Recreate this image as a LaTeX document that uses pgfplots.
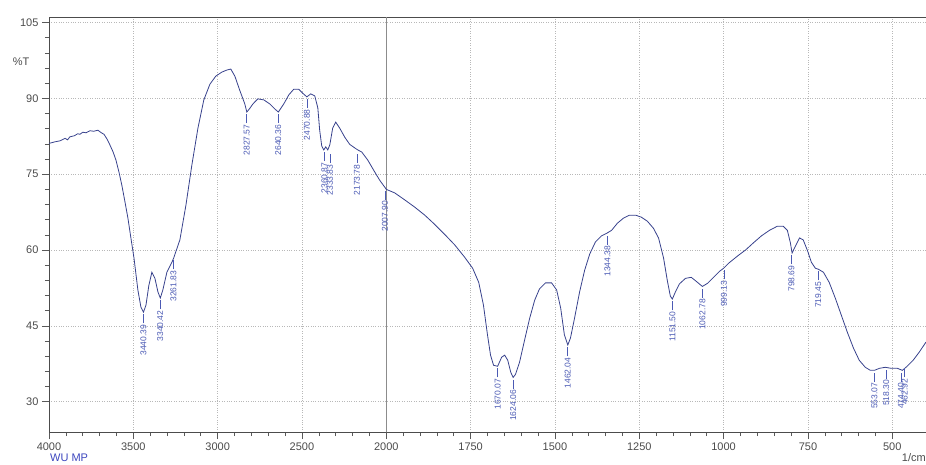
\documentclass[border=0pt]{standalone}
\usepackage{pgfplots}
\usepackage{pgfplotstable}
\pgfplotsset{compat=1.18}
\usepackage{fontspec}
\setmainfont{Liberation Sans}
\definecolor{curve}{RGB}{55,65,140}
\definecolor{lbl}{RGB}{75,90,180}
\definecolor{txt}{RGB}{75,75,75}
\definecolor{wu}{RGB}{60,70,190}
\pgfplotstableread{
wn T
4000 81.1
3965 81.4
3935 81.6
3905 82.1
3890 81.8
3876 82.4
3850 82.6
3830 83.0
3816 82.9
3800 83.3
3780 83.2
3757 83.6
3735 83.5
3710 83.7
3690 83.2
3674 82.9
3655 81.9
3639 80.8
3620 79.4
3603 77.8
3585 75.4
3568 72.8
3550 69.6
3532 66.3
3514 62.3
3496 58.4
3473 52.1
3455 48.7
3440 47.7
3425 49.1
3408 53.0
3390 55.6
3372 54.4
3354 51.7
3340 50.5
3325 52.1
3301 55.6
3271 57.6
3261 58.4
3224 62.0
3188 68.9
3153 76.8
3117 84.1
3082 89.7
3046 92.8
3011 94.4
2975 95.2
2946 95.6
2922 95.8
2898 94.4
2869 91.6
2839 88.9
2827 87.3
2810 88.0
2791 88.9
2762 89.9
2726 89.7
2691 88.9
2661 87.9
2640 87.3
2608 88.9
2578 90.7
2549 91.8
2519 91.8
2495 91.0
2471 90.3
2448 90.9
2424 90.5
2406 88.1
2395 83.7
2383 80.6
2371 79.8
2359 80.4
2347 79.8
2335 80.8
2318 84.1
2300 85.3
2276 84.1
2246 82.3
2217 80.9
2187 80.2
2169 79.8
2146 79.4
2110 77.8
2075 75.8
2039 73.8
2004 72.2
2000 72.0
1975 71.3
1945 69.9
1916 68.5
1886 66.9
1857 65.1
1827 63.1
1797 61.0
1768 58.6
1744 56.4
1726 53.6
1712 49.1
1700 43.2
1691 39.2
1682 37.2
1670 37.0
1658 38.8
1649 39.2
1640 38.2
1631 35.8
1624 34.8
1617 35.4
1605 37.8
1590 42.2
1575 46.5
1560 50.1
1546 52.3
1528 53.5
1510 53.5
1495 52.1
1483 48.5
1472 43.2
1462 41.2
1454 42.6
1442 46.5
1427 51.7
1412 56.0
1397 59.2
1380 61.6
1362 62.8
1347 63.3
1332 63.9
1315 65.3
1297 66.3
1279 66.9
1261 66.9
1244 66.5
1226 65.7
1208 64.3
1193 62.4
1178 58.4
1167 54.0
1158 50.9
1152 50.3
1143 51.7
1131 53.3
1113 54.4
1096 54.6
1081 53.8
1063 52.8
1048 53.4
1030 54.6
1012 55.8
1000 56.4
985 57.4
959 58.8
935 60.0
912 61.4
888 62.8
864 63.9
841 64.7
823 64.7
811 63.9
802 61.4
797 59.4
787 60.8
775 62.4
764 62.0
752 60.0
740 57.6
728 56.4
719 56.2
704 55.6
687 53.6
669 50.5
651 47.1
633 43.7
615 40.6
598 38.2
580 36.8
565 36.2
553 36.2
538 36.6
521 36.8
503 36.6
485 36.6
470 36.2
456 37.0
438 38.2
420 39.8
400 41.8
}\spectrum
\tikzset{pk/.style={yshift=-2pt, rotate=90, anchor=east, inner sep=0pt,
  font=\fontsize{8.5}{9}\selectfont, text=lbl}}
\newcommand{\pl}[1]{#1\,\rule[0.33em]{9pt}{0.5pt}}
\begin{document}
\begin{tikzpicture}
\useasboundingbox (0,0) rectangle (926pt,464pt);
\begin{axis}[
  at={(49pt,32pt)}, anchor=south west,
  scale only axis, width=877pt, height=415pt,
  x coord trafo/.code={\pgfmathparse{(#1>=2000)*(4000-#1)+(#1<2000)*(6000-2*#1)}},
  xmin=4000, xmax=400, ymin=24, ymax=106.1,
  xtick={4000,3500,3000,2500,2000,1750,1500,1250,1000,750,500},
  xticklabels={4000,3500,3000,2500,2000,1750,1500,1250,1000,750,500},
  minor x tick num=4,
  ytick={30,45,60,75,90,105},
  yticklabels={30,45,60,75,90,105},
  minor y tick num=4,
  tick pos=left, tick align=outside,
  major tick length=7pt, minor tick length=4pt,
  grid=major,
  major grid style={dotted, black!28, line width=0.7pt},
  axis line style={black!70, line width=0.8pt},
  tick style={black!65, line width=0.6pt},
  ticklabel style={font=\fontsize{11}{13}\selectfont, text=txt},
  /pgf/number format/assume math mode=true,
  extra x ticks={2000}, extra x tick labels={},
  extra x tick style={grid=major, major grid style={solid, black!45, line width=1.1pt}},
  clip=false,
]
\addplot[curve, line width=0.8pt] table[x=wn, y=T] {\spectrum};
\node[pk] at (axis cs:3440.39,47.7) {\pl{3440.39}};
\node[pk] at (axis cs:3340.42,50.5) {\pl{3340.42}};
\node[pk] at (axis cs:3261.83,58.4) {\pl{3261.83}};
\node[pk] at (axis cs:2827.57,87.3) {\pl{2827.57}};
\node[pk] at (axis cs:2640.36,87.3) {\pl{2640.36}};
\node[pk] at (axis cs:2470.88,90.3) {\pl{2470.88}};
\node[pk] at (axis cs:2366.87,79.8) {\pl{2360.87}};
\node[pk] at (axis cs:2333.83,79.4) {\pl{2333.83}};
\node[pk] at (axis cs:2173.78,79.4) {\pl{2173.78}};
\node[pk] at (axis cs:2007.90,72.2) {\pl{2007.90}};
\node[pk] at (axis cs:1670.07,37.0) {\pl{1670.07}};
\node[pk] at (axis cs:1624.06,34.8) {\pl{1624.06}};
\node[pk] at (axis cs:1462.04,41.2) {\pl{1462.04}};
\node[pk] at (axis cs:1344.38,63.3) {\pl{1344.38}};
\node[pk] at (axis cs:1151.50,50.3) {\pl{1151.50}};
\node[pk] at (axis cs:1062.78,52.8) {\pl{1062.78}};
\node[pk] at (axis cs:999.13,56.4) {\pl{999.13}};
\node[pk] at (axis cs:798.69,59.4) {\pl{798.69}};
\node[pk] at (axis cs:719.45,56.2) {\pl{719.45}};
\node[pk] at (axis cs:553.07,36.2) {\pl{553.07}};
\node[pk] at (axis cs:518.30,36.8) {\pl{518.30}};
\node[pk] at (axis cs:474.40,36.2) {\pl{474.40}};
\node[pk] at (axis cs:462.92,37.0) {\pl{462.92}};
\node[anchor=east, font=\fontsize{11}{13}\selectfont, text=txt] at ([xshift=-16pt]axis cs:4000,97.2) {\%T};
\end{axis}
\node[anchor=west, font=\fontsize{11}{13}\selectfont, text=wu, inner sep=0pt] at (50pt,6pt) {WU MP};
\node[anchor=east, font=\fontsize{11}{13}\selectfont, text=txt, inner sep=0pt] at (926pt,6pt) {1/cm};
\end{tikzpicture}
\end{document}
